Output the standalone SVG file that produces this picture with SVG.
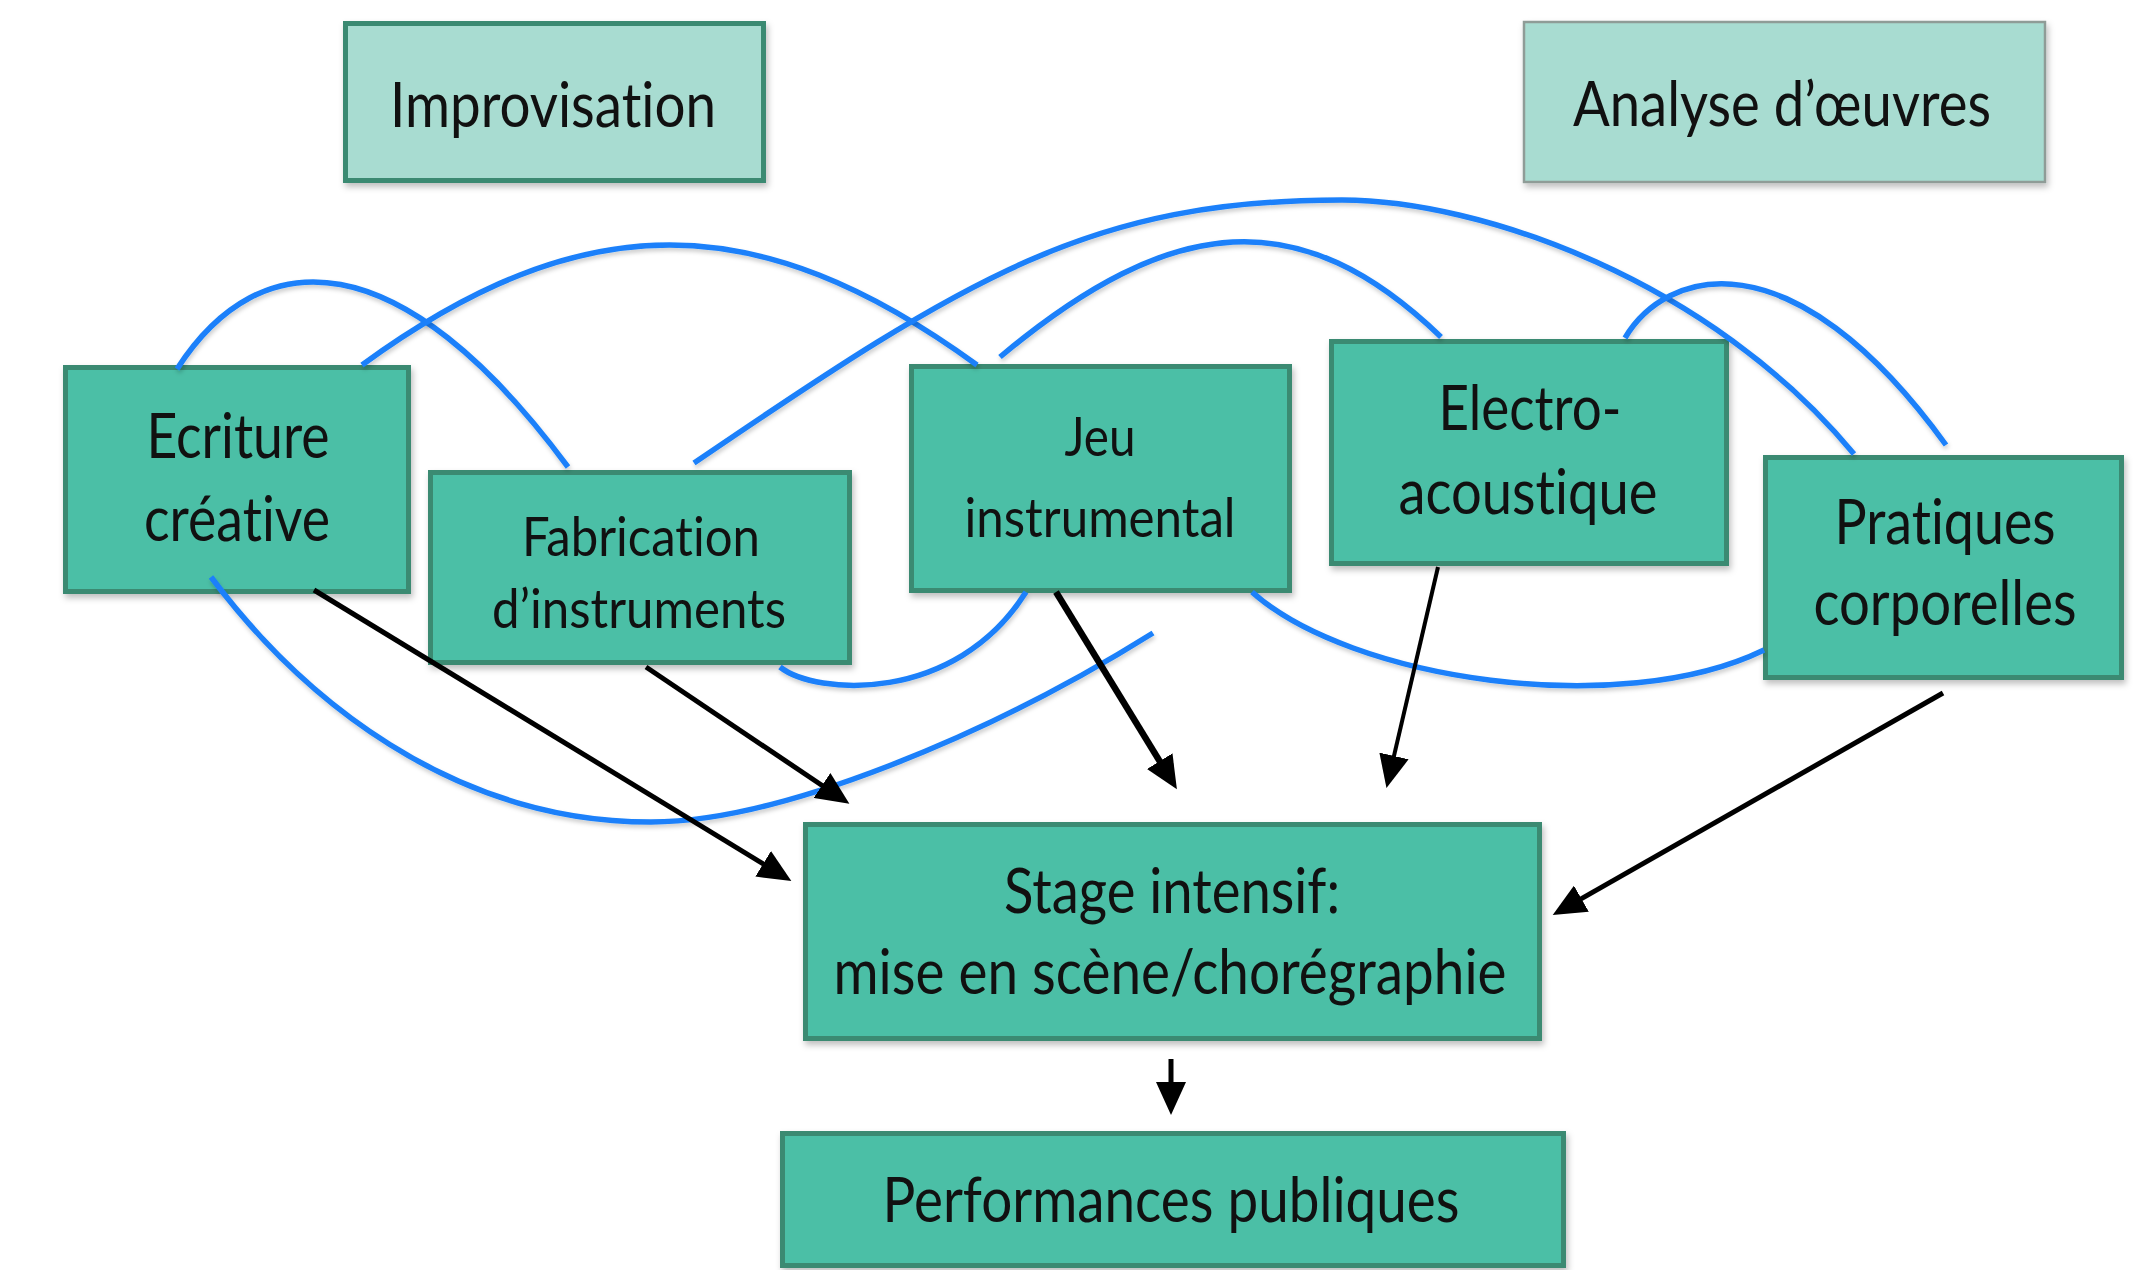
<svg xmlns="http://www.w3.org/2000/svg" width="2149" height="1270" viewBox="0 0 2149 1270">
<style>
.box{fill:#4cbfa6;stroke:#3b8a72;stroke-width:5;filter:url(#sh)}
.light{fill:#a8dcd1;stroke:#3b8a72;stroke-width:5;filter:url(#sh)}
.lightg{fill:#a8dcd1;stroke:#8f9c97;stroke-width:2.5;filter:url(#sh)}
.t{font-family:Lato,"Liberation Sans",sans-serif;font-size:61px;fill:#111;text-anchor:middle;font-variant-ligatures:none;font-feature-settings:"liga" 0,"clig" 0}
.s{font-size:55px}
.blue{fill:none;stroke:#1a80fa;stroke-width:5.5;filter:url(#lsh)}
.arr{fill:none;stroke:#000;stroke-width:5;marker-end:url(#ah)}
</style>
<defs>
<filter id="sh" x="-5%" y="-5%" width="115%" height="120%">
<feDropShadow dx="2" dy="4" stdDeviation="3" flood-color="#000" flood-opacity="0.25"/>
</filter>
<filter id="lsh" x="-5%" y="-10%" width="110%" height="130%">
<feDropShadow dx="1" dy="3" stdDeviation="2" flood-color="#000" flood-opacity="0.2"/>
</filter>
<marker id="ah" markerUnits="userSpaceOnUse" viewBox="0 0 33 30" markerWidth="33" markerHeight="30" refX="10" refY="15" orient="auto">
<path d="M0,0 L33,15 L0,30 Z" fill="#000"/>
</marker>
</defs>
<rect width="2149" height="1270" fill="#fff"/>

<g id="improvisation">
<rect class="light" x="345.5" y="23.5" width="418" height="157"/>
<text class="t" x="553" y="127" textLength="326" lengthAdjust="spacingAndGlyphs">Improvisation</text>
</g>
<g id="analyse">
<rect class="lightg" x="1524" y="22" width="521" height="160"/>
<text class="t" x="1782" y="126" textLength="418" lengthAdjust="spacingAndGlyphs">Analyse d’œuvres</text>
</g>
<g id="ecriture">
<rect class="box" x="65.5" y="367.5" width="343" height="224"/>
<text class="t" x="238" y="458" textLength="183" lengthAdjust="spacingAndGlyphs">Ecriture</text>
<text class="t" x="237" y="541" textLength="186" lengthAdjust="spacingAndGlyphs">créative</text>
</g>
<g id="fabrication">
<rect class="box" x="430.5" y="472.5" width="419" height="190"/>
<text class="t s" x="641" y="556" textLength="238" lengthAdjust="spacingAndGlyphs">Fabrication</text>
<text class="t s" x="639" y="628" textLength="294" lengthAdjust="spacingAndGlyphs">d’instruments</text>
</g>
<g id="jeu">
<rect class="box" x="911.5" y="366.5" width="378" height="224"/>
<text class="t s" x="1100" y="456" textLength="71" lengthAdjust="spacingAndGlyphs">Jeu</text>
<text class="t s" x="1100" y="537" textLength="271" lengthAdjust="spacingAndGlyphs">instrumental</text>
</g>
<g id="electro">
<rect class="box" x="1331.5" y="341.5" width="395" height="222"/>
<text class="t" x="1530" y="430" textLength="183" lengthAdjust="spacingAndGlyphs">Electro-</text>
<text class="t" x="1528" y="514" textLength="259" lengthAdjust="spacingAndGlyphs">acoustique</text>
</g>
<g id="pratiques">
<rect class="box" x="1765.5" y="457.5" width="356" height="220"/>
<text class="t" x="1945" y="544" textLength="221" lengthAdjust="spacingAndGlyphs">Pratiques</text>
<text class="t" x="1945" y="625" textLength="263" lengthAdjust="spacingAndGlyphs">corporelles</text>
</g>
<g id="stage">
<rect class="box" x="805.5" y="824.5" width="734" height="214"/>
<text class="t" x="1172" y="913" textLength="336" lengthAdjust="spacingAndGlyphs">Stage intensif:</text>
<text class="t" x="1170" y="994" textLength="673" lengthAdjust="spacingAndGlyphs">mise en scène/chorégraphie</text>
</g>
<g id="performances">
<rect class="box" x="782.5" y="1133.5" width="781" height="132"/>
<text class="t" x="1171" y="1222" textLength="577" lengthAdjust="spacingAndGlyphs">Performances publiques</text>
</g>

<g id="connectors">
<path class="blue" d="M177,369 C260,240 400,240 568,467"/>
<path class="blue" d="M362,365 C582,205 757,205 977,365"/>
<path class="blue" d="M694,463 C970,275 1092,200 1342,200 C1480,200 1710,280 1854,454"/>
<path class="blue" d="M1000,357 C1173,212 1301,202 1441,337"/>
<path class="blue" d="M1625,338 C1665,270 1790,230 1946,445"/>
<path class="blue" d="M211,577 C301,697 451,822 651,822 C780,822 990,735 1153,633"/>
<path class="blue" d="M780,667 C815,695 955,705 1026,592"/>
<path class="blue" d="M1252,592 C1350,680 1620,720 1764,650"/>
<path class="arr" d="M314,590 L771.7,869"/>
<path class="arr" d="M646,667 L830.3,791"/>
<path class="arr" style="stroke-width:6.5" d="M1056,592 L1164.9,769.7"/>
<path class="arr" style="stroke-width:4" d="M1438,567 L1391.7,765.7"/>
<path class="arr" d="M1943,693 L1572.7,903.6"/>
<path class="arr" d="M1171,1059 L1171,1092"/>
</g>
</svg>
